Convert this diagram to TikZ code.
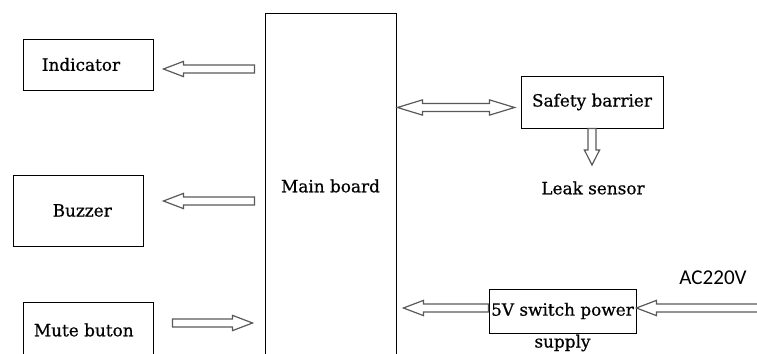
\documentclass[tikz,border=0pt]{standalone}
\usepackage{fontspec}
\setmainfont{DejaVu Serif}[FakeBold=0.6]
\newfontfamily\acfont{Carlito}
\usetikzlibrary{calc}

\tikzset{
  box/.style={draw, line width=0.6pt, inner sep=0pt, font=\fontsize{12}{14}\selectfont},
  lbl/.style={inner sep=0pt, font=\fontsize{12}{14}\selectfont},
  headlen/.store in=\fathead, headlen=5mm,
  % hollow block arrow, one head
  fat/.style={draw=black!65, line width=0.85pt, to path={
    (\tikztostart) coordinate (s) (\tikztotarget) coordinate (t)
    ($(t)!\fathead!(s)$) coordinate (h)
    ($(s)!1mm!90:(t)$) -- ($(h)!1mm!90:(t)$) -- ($(h)!1.9mm!90:(t)$) -- (t)
    -- ($(h)!1.9mm!-90:(t)$) -- ($(h)!1mm!-90:(t)$) -- ($(s)!1mm!-90:(t)$) -- cycle}},
  % hollow block arrow, two heads
  dfat/.style={draw=black!65, line width=0.85pt, to path={
    (\tikztostart) coordinate (s) (\tikztotarget) coordinate (t)
    ($(s)!\fathead!(t)$) coordinate (g) ($(t)!\fathead!(s)$) coordinate (h)
    (s) -- ($(g)!1.9mm!90:(t)$) -- ($(g)!1mm!90:(t)$) -- ($(h)!1mm!90:(t)$)
    -- ($(h)!1.9mm!90:(t)$) -- (t) -- ($(h)!1.9mm!-90:(t)$) -- ($(h)!1mm!-90:(t)$)
    -- ($(g)!1mm!-90:(t)$) -- ($(g)!1.9mm!-90:(t)$) -- cycle}}
}

\begin{document}
\begin{tikzpicture}[x=0.25mm,y=-0.25mm]
\useasboundingbox (0,0) rectangle (757,354);

% Boxes
\node[box, minimum width=32.75mm, minimum height=86.5mm] (main) at (330.5,186) {Main board};
\node[box, minimum width=32.5mm, minimum height=12.75mm] (ind) at (88,64.5) {\hspace*{-10pt}Indicator};
\node[box, minimum width=32.5mm, minimum height=17.75mm] (buz) at (78,210.5) {\hspace*{6pt}Buzzer};
\node[box, minimum width=32.5mm, minimum height=14mm] (mute) at (88,330) {\hspace*{-6pt}Mute buton};
\node[box, minimum width=35.5mm, minimum height=13mm] (sb) at (592,102) {Safety barrier};
\node[box, minimum width=36.75mm, minimum height=11mm] (psu) at (562.5,311) {5V switch power};
\node[lbl] (sup) at (562.5,343) {supply};
\node[lbl] (leak) at (593,188) {Leak sensor};
\node[inner sep=0pt, font=\acfont\fontsize{15}{17}\selectfont] (ac) at (713,278) {AC220V};
\coordinate (mains) at (765,308);

% Arrows
\draw[fat] ($(main.west |- 0,69)+(-10,0)$) to ($(ind.east |- 0,69)+(10,0)$);
\draw[fat] ($(main.west |- 0,201)+(-10,0)$) to ($(buz.east |- 0,201)+(20,0)$);
\draw[fat] ($(mute.east |- 0,323)+(19,0)$) to ($(main.west |- 0,323)+(-12,0)$);
\draw[dfat, headlen=6.25mm] ($(main.east |- 0,107.5)+(1,0)$) to ($(sb.west |- 0,107.5)+(-6,0)$);
\draw[fat, headlen=3.75mm] (sb.south) to (sb.south |- 0,165);
\draw[fat] (psu.west |- 0,308) to ($(main.east |- 0,308)+(7,0)$);
\draw[fat] (mains) to (psu.east |- 0,308);
\end{tikzpicture}
\end{document}
